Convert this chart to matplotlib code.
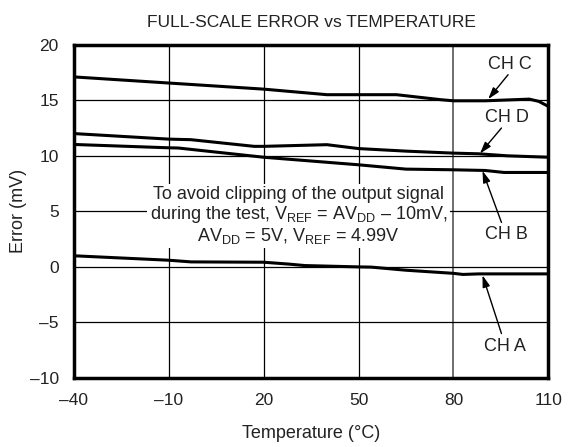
import matplotlib
matplotlib.use("Agg")
import matplotlib.pyplot as plt

plt.rcParams['font.family'] = ['Liberation Sans', 'DejaVu Sans']
plt.rcParams['mathtext.fontset'] = 'custom'
plt.rcParams['mathtext.rm'] = 'Liberation Sans'
plt.rcParams['mathtext.it'] = 'Liberation Sans'
plt.rcParams['axes.unicode_minus'] = False

# data
temp_c = [-40, -10, 20, 40, 50, 62, 76, 80, 90, 104, 107, 110]
err_c = [17.1, 16.55, 16.0, 15.5, 15.5, 15.5, 15.05, 14.95, 14.95, 15.1, 14.9, 14.45]

temp_d = [-40, -10, -3, 17, 20, 40, 50, 65, 80, 88, 97, 110]
err_d = [12.0, 11.5, 11.45, 10.85, 10.85, 11.0, 10.65, 10.42, 10.24, 10.18, 10.0, 9.87]

temp_b = [-40, -10, -7, 20, 50, 65, 80, 90, 96, 110]
err_b = [11.02, 10.72, 10.7, 9.87, 9.19, 8.8, 8.74, 8.68, 8.5, 8.5]

temp_a = [-40, -10, -3, 20, 28, 33, 50, 54, 65, 80, 83, 88, 110]
err_a = [1.0, 0.6, 0.45, 0.42, 0.25, 0.12, 0.0, -0.02, -0.3, -0.58, -0.68, -0.63, -0.63]

xticks = [-40, -10, 20, 50, 80, 110]
xlabels = ['\u201340', '\u201310', '20', '50', '80', '110']
yticks = [-10, -5, 0, 5, 10, 15, 20]
ylabels = ['\u201310', '\u20135', '0', '5', '10', '15', '20']

# label text pos, arrow tail, arrow head
labels = [
    ('CH C', (97.8, 18.2), (97.3, 17.3), (91.0, 15.1)),
    ('CH D', (96.8, 13.45), (95.2, 12.5), (88.4, 10.2)),
    ('CH B', (96.8, 2.95), (95.2, 4.0), (89.2, 8.65)),
    ('CH A', (96.3, -7.15), (95.2, -6.0), (89.2, -0.75)),
]

fs = 13
txt_col = '#222222'

fig = plt.figure(figsize=(5.87, 4.47), dpi=100)
ax = fig.add_axes([0.126, 0.1544, 0.808, 0.7456])

for x in xticks[1:-1]:
    c = '#555555' if x == 80 else 'black'
    ax.axvline(x, color=c, lw=0.9 if x != 80 else 1.2, zorder=1)
for y in yticks[1:-1]:
    ax.axhline(y, color='black', lw=0.9, zorder=1)

# note box hides the grid, not the curves
note = ('To avoid clipping of the output signal\n'
        'during the test, V$_{\\rm REF}$ = AV$_{\\rm DD}$ \u2013 10mV,\n'
        'AV$_{\\rm DD}$ = 5V, V$_{\\rm REF}$ = 4.99V')
ax.text(31, 4.6, note, ha='center', va='center', fontsize=fs,
        color=txt_col, linespacing=1.05, zorder=2,
        bbox=dict(facecolor='white', edgecolor='none', pad=2))

for t, e in [(temp_c, err_c), (temp_d, err_d), (temp_b, err_b), (temp_a, err_a)]:
    ax.plot(t, e, color='black', lw=2.2, zorder=3, solid_capstyle='butt')

for name, tpos, tail, head in labels:
    ax.text(tpos[0], tpos[1], name, ha='center', va='center', fontsize=fs,
            color=txt_col, zorder=4)
    ax.annotate('', xy=head, xytext=tail, zorder=4,
                arrowprops=dict(arrowstyle='-|>,head_length=0.7,head_width=0.22',
                                color='black', lw=1.0, shrinkA=0, shrinkB=0))

ax.set_xlim(-40, 110)
ax.set_ylim(-10, 20)
ax.set_xticks(xticks)
ax.set_xticklabels(xlabels)
ax.set_yticks(yticks)
ax.set_yticklabels(ylabels)
ax.tick_params(axis='x', length=0, pad=11, labelsize=12.5, colors=txt_col)
ax.tick_params(axis='y', length=0, pad=11, labelsize=12.5, colors=txt_col)
for s in ax.spines.values():
    s.set_linewidth(2.5)
    s.set_zorder(5)

ax.set_xlabel('Temperature (\u00b0C)', fontsize=fs, color=txt_col, labelpad=12)
ax.set_ylabel('Error (mV)', fontsize=fs, color=txt_col, labelpad=2)
ax.set_title('FULL-SCALE ERROR vs TEMPERATURE', fontsize=12.5, color=txt_col, pad=13)

fig.savefig('out.png', dpi=100)
